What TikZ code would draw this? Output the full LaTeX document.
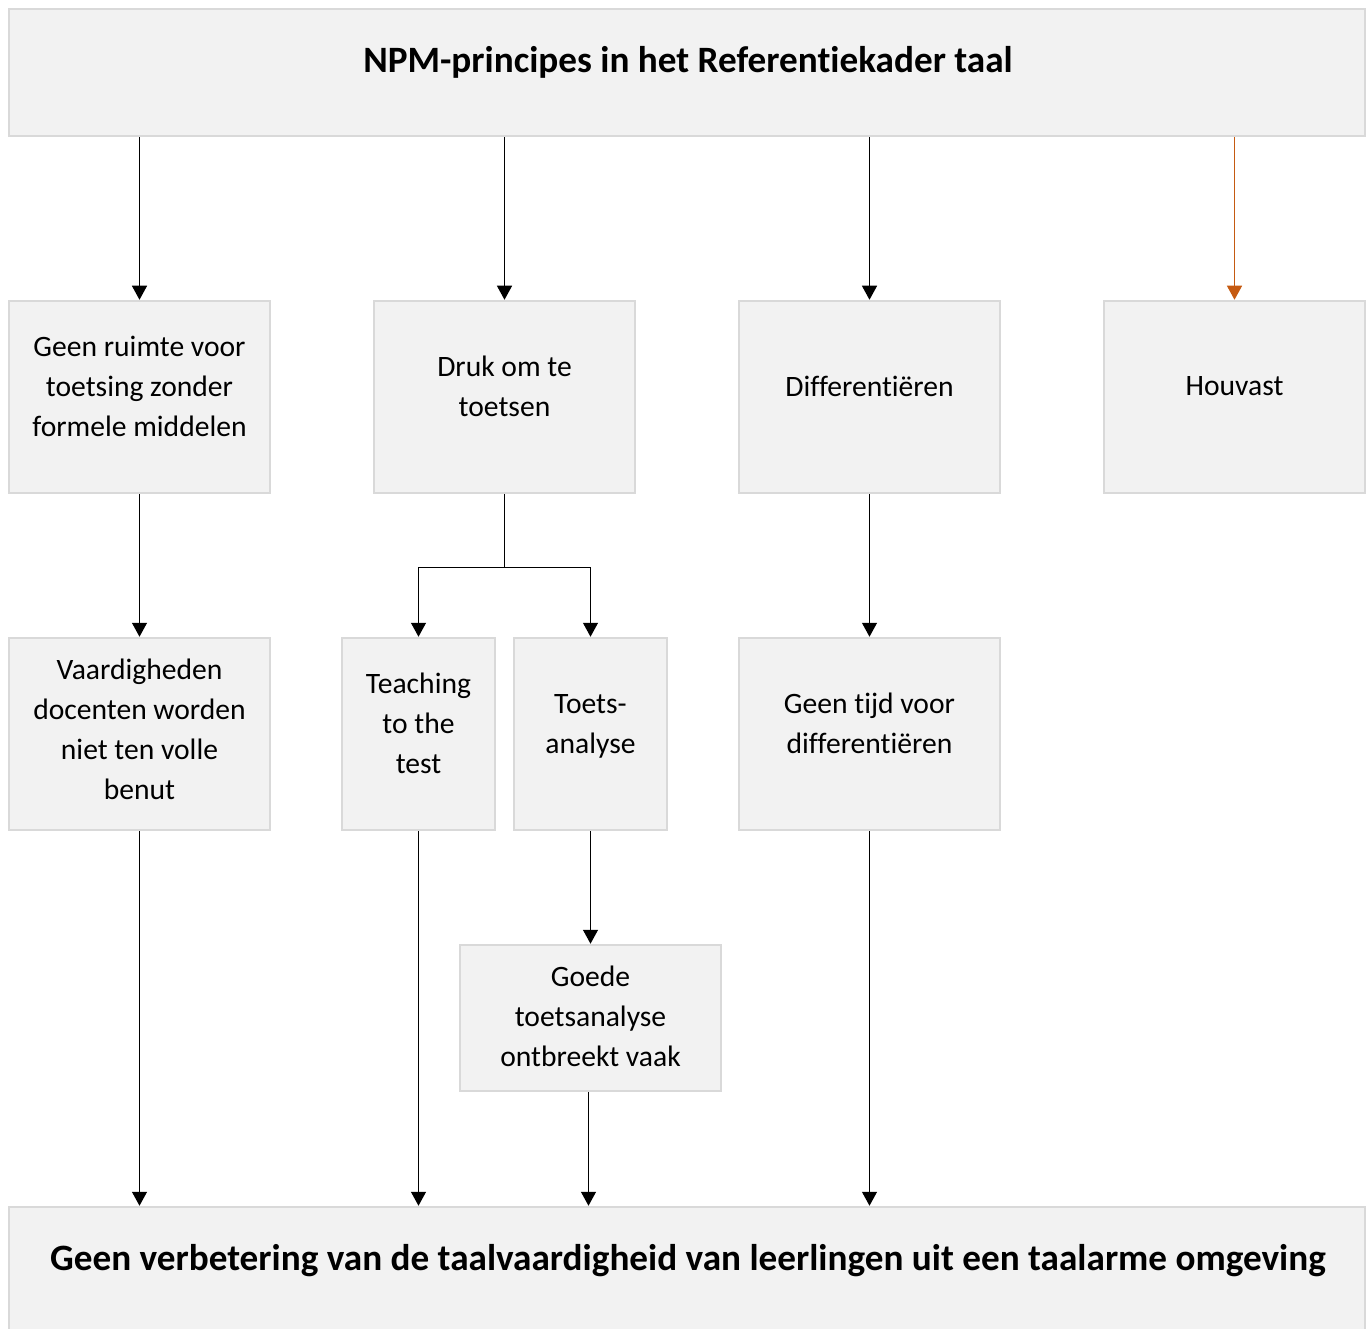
\documentclass[tikz,border=0pt]{standalone}
\usepackage{fontspec}
\setmainfont{Carlito}[Ligatures=NoCommon]
\usetikzlibrary{arrows.meta}
\definecolor{boxfill}{HTML}{F2F2F2}
\definecolor{boxline}{HTML}{D9D9D9}
\definecolor{accent}{HTML}{C55A11}

\begin{document}
\begin{tikzpicture}[x=1pt,y=-1pt,
  box/.style={draw=boxline, fill=boxfill, line width=2.5pt, inner sep=0pt},
  wide/.style={box, minimum width=1356pt, minimum height=127pt},
  cell/.style={box, minimum width=261pt, minimum height=192pt},
  slim/.style={box, minimum width=153pt, minimum height=192pt},
  txt/.style={align=center, inner sep=0pt, font=\fontsize{29.6}{40}\selectfont},
  head/.style={inner sep=0pt, font=\bfseries\fontsize{37.2}{44}\selectfont},
  arr/.style={-{Triangle[width=15pt,length=14pt]}, line width=1.3pt}]
\useasboundingbox (0,0) rectangle (1371,1329);
% boxes
\node[wide] (top) at (687,72.5) {};
\node[cell] (geen) at (139.5,397) {};
\node[cell] (druk) at (504.5,397) {};
\node[cell] (diff) at (869.5,397) {};
\node[cell] (houv) at (1234.5,397) {};
\node[cell] (vaard) at (139.5,734) {};
\node[slim] (teach) at (418.5,734) {};
\node[slim] (toets) at (590.5,734) {};
\node[cell] (tijd) at (869.5,734) {};
\node[cell, minimum height=146pt] (goede) at (590.5,1018) {};
\node[wide] (bottom) at (687,1270.5) {};
% texts
\node[head] (topT) at (688,62) {NPM-principes in het Referentiekader taal};
\node[txt] (geenT) at (139.5,386) {Geen ruimte voor\\toetsing zonder\\formele middelen};
\node[txt] (drukT) at (504.5,386) {Druk om te\\toetsen};
\node[txt] (diffT) at (869.5,386) {Differentiëren};
\node[txt] (houvT) at (1234.5,386) {Houvast};
\node[txt] (vaardT) at (139.5,729) {Vaardigheden\\docenten worden\\niet ten volle\\benut};
\node[txt] (teachT) at (418.5,723) {Teaching\\to the\\test};
\node[txt] (toetsT) at (590.5,726) {Toets-\\analyse};
\node[txt] (tijdT) at (869.5,723) {Geen tijd voor\\differentiëren};
\node[txt] (goedeT) at (590.5,1016) {Goede\\toetsanalyse\\ontbreekt vaak};
\node[head] (bottomT) at (688,1261) {Geen verbetering van de taalvaardigheid van leerlingen uit een taalarme omgeving};
% connectors
\draw[arr] (geen.north |- top.south) -- (geen.north);
\draw[arr] (druk.north |- top.south) -- (druk.north);
\draw[arr] (diff.north |- top.south) -- (diff.north);
\draw[arr, accent] (houv.north |- top.south) -- (houv.north);
\draw[arr] (geen.south) -- (vaard.north);
\coordinate (split) at ([yshift=-73pt]druk.south);
\draw[line width=1.3pt] (druk.south) -- (split);
\draw[arr] (split) -| (teach.north);
\draw[arr] (split) -| (toets.north);
\draw[arr] (diff.south) -- (tijd.north);
\draw[arr] (toets.south) -- (goede.north);
\draw[arr] (vaard.south) -- (vaard.south |- bottom.north);
\draw[arr] (teach.south) -- (teach.south |- bottom.north);
\draw[arr] ([xshift=-2pt]goede.south) -- ([xshift=-2pt]goede.south |- bottom.north);
\draw[arr] (tijd.south) -- (tijd.south |- bottom.north);
\end{tikzpicture}
\end{document}
